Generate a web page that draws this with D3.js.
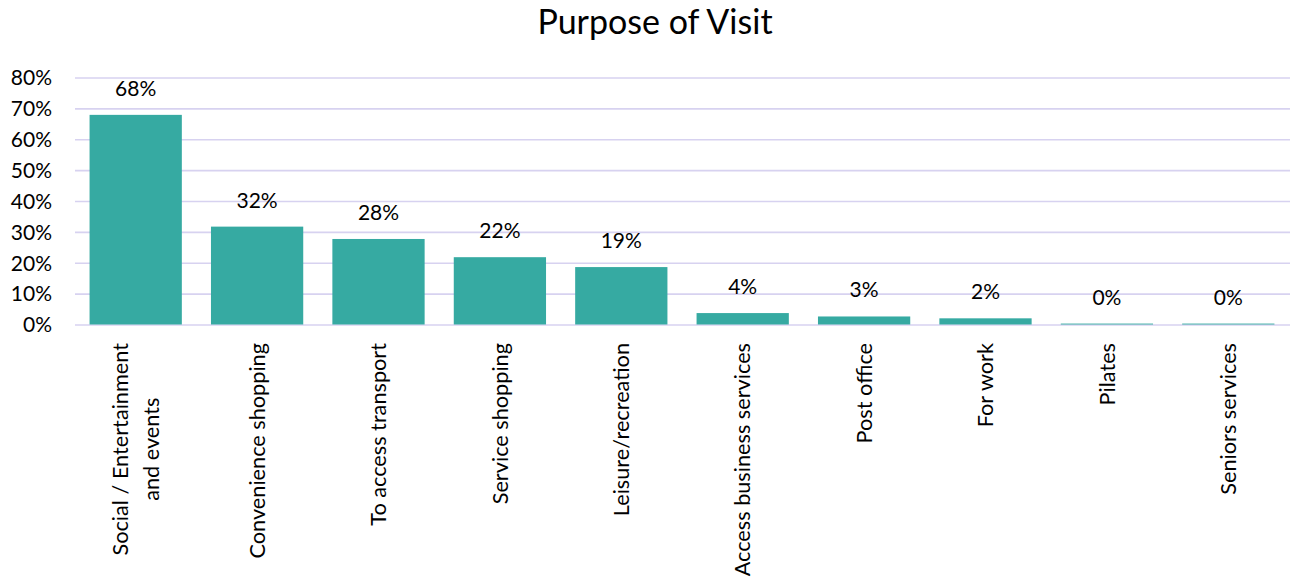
<!DOCTYPE html>
<html>
<head>
<meta charset="utf-8">
<script src="https://cdn.jsdelivr.net/npm/d3@7"></script>
<style>
  html, body { margin: 0; padding: 0; background: #fff; }
  svg { display: block; font-family: Lato, "Open Sans", sans-serif; }
</style>
</head>
<body>
<svg id="chart" width="1290" height="577"></svg>
<script>
// Survey responses: share of respondents per purpose of visit
const categories = [
  "Social / Entertainment\nand events",
  "Convenience shopping",
  "To access transport",
  "Service shopping",
  "Leisure/recreation",
  "Access business services",
  "Post office",
  "For work",
  "Pilates",
  "Seniors services"
];
const shares = [67.9, 31.7, 27.7, 21.8, 18.6, 3.7, 2.6, 2.0, 0.3, 0.3];
const yTickValues = [0, 10, 20, 30, 40, 50, 60, 70, 80];
const chartTitle = "Purpose of Visit";

const W = 1290, H = 577;
const svg = d3.select("#chart");

const x = d3.scaleBand()
  .domain(categories)
  .range([75, 1289])
  .paddingInner(0.24)
  .paddingOuter(0.12);

const y = d3.scaleLinear()
  .domain([0, 80])
  .range([324.5, 77.5]);

const pct = v => Math.round(v) + "%";

// Title
svg.append("text")
  .attr("x", 655)
  .attr("y", 34)
  .attr("text-anchor", "middle")
  .attr("font-size", 34)
  .attr("fill", "#000")
  .text(chartTitle);

// Horizontal gridlines with tick labels on the left
const yAxis = d3.axisLeft(y)
  .tickValues(yTickValues)
  .tickFormat(d => d + "%")
  .tickSize(-(W - 75))
  .tickPadding(23);

const gy = svg.append("g")
  .attr("transform", "translate(75,0)")
  .call(yAxis);
gy.select(".domain").remove();
gy.selectAll(".tick line")
  .attr("stroke", "#d7d2f0")
  .attr("stroke-width", 1.6);
gy.selectAll(".tick text")
  .attr("font-size", 21)
  .attr("font-family", "Lato, sans-serif")
  .attr("fill", "#000")
  .attr("dy", "0.35em");

// Bars
svg.append("g")
  .selectAll("rect")
  .data(shares)
  .join("rect")
  .attr("x", (d, i) => x(categories[i]))
  .attr("width", x.bandwidth())
  .attr("y", d => y(d))
  .attr("height", d => y(0) - y(d))
  .attr("fill", "#36aaa2");

// Value labels above bars
svg.append("g")
  .selectAll("text")
  .data(shares)
  .join("text")
  .attr("x", (d, i) => x(categories[i]) + x.bandwidth() / 2)
  .attr("y", d => y(d) - 19)
  .attr("text-anchor", "middle")
  .attr("font-size", 21)
  .attr("fill", "#000")
  .text(d => pct(d));

// Rotated category labels below the axis
const labelTop = 343;
const lineGap = 31;
const gx = svg.append("g");
categories.forEach(cat => {
  const lines = cat.split("\n");
  const cx = x(cat) + x.bandwidth() / 2;
  const g = gx.append("g")
    .attr("transform", `translate(${cx},${labelTop}) rotate(-90)`);
  const texts = lines.map((ln, k) => g.append("text")
    .attr("font-size", 21.7)
    .attr("fill", "#000")
    .attr("y", (k - (lines.length - 1) / 2) * lineGap)
    .attr("dy", "0.35em")
    .text(ln));
  if (lines.length === 1) {
    texts[0].attr("text-anchor", "end").attr("x", 0);
  } else {
    const maxLen = d3.max(texts, t => t.node().getComputedTextLength());
    texts.forEach(t => t.attr("text-anchor", "middle").attr("x", -maxLen / 2));
  }
});
</script>
</body>
</html>
